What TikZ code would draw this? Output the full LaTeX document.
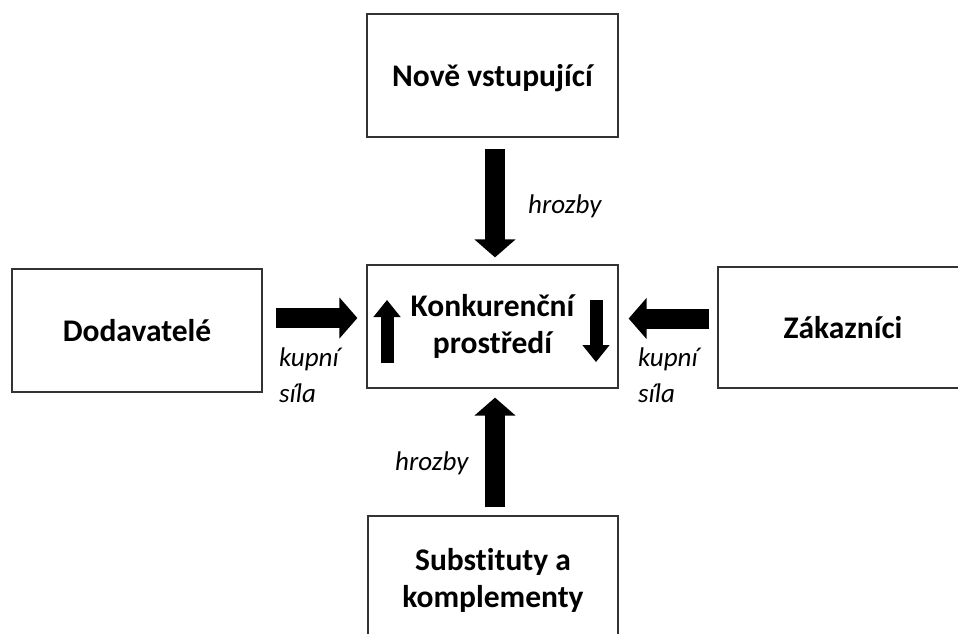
\documentclass[tikz,border=0pt]{standalone}
\usepackage{fontspec}
\setmainfont[Ligatures=NoCommon]{Carlito}
\usetikzlibrary{arrows.meta,calc}

\tikzset{
  box/.style={draw=black!80, line width=1.3pt, inner sep=0pt, align=center,
    font=\fontsize{31.5}{37}\selectfont\bfseries},
  lbl/.style={inner sep=0pt, align=left, anchor=base west,
    font=\fontsize{27}{36}\selectfont\itshape},
  fat/.style={line width=20pt, -{Triangle[length=18pt, width=41pt, line width=1.5pt]}},
  thin/.style={line width=13pt, -{Triangle[length=17pt, width=27pt, line width=1.5pt]}}
}

\begin{document}
\begin{tikzpicture}[x=1pt, y=-1pt]
  \useasboundingbox (0,0) rectangle (958,633);
  \clip (0,0) rectangle (958,633);

  % the five forces
  \node[box, minimum width=251pt, minimum height=123pt, text depth=0pt] (top) at (492.5,75.5) {Nově vstupující};
  \node[box, minimum width=251pt, minimum height=123pt] (env) at (492.5,326.5) {Konkurenční\\prostředí};
  \node[box, minimum width=250pt, minimum height=123pt] (left) at (137,330.5) {Dodavatelé};
  \node[box, minimum width=250pt, minimum height=121pt] (right) at (843,327.5) {Zákazníci};
  \node[box, minimum width=250pt, minimum height=129pt] (bottom) at (493,580.5) {Substituty a\\komplementy};

  % pressure arrows towards the competitive environment
  \draw[fat, shorten <=11pt, shorten >=7pt]
    ([xshift=2.5pt]top.south) -- ([xshift=2.5pt]top.south |- env.north);
  \draw[fat, shorten <=8pt, shorten >=9pt]
    ([xshift=2pt]bottom.north) -- ([xshift=2pt]bottom.north |- env.south);
  \draw[fat, shorten <=13pt, shorten >=9pt]
    ([yshift=12.5pt]left.east) -- ([yshift=12.5pt]left.east -| env.west);
  \draw[fat, shorten <=8pt, shorten >=10pt]
    ([yshift=9pt]right.west) -- ([yshift=9pt]right.west -| env.east);

  % rivalry inside the environment
  \coordinate (upS) at (387,363);
  \coordinate (upE) at (387,300);
  \coordinate (dnS) at (596,300);
  \coordinate (dnE) at (596,362);
  \draw[thin] (upS) -- (upE);
  \draw[thin] (dnS) -- (dnE);

  % labels
  \node[lbl] (ht) at (528,213) {hrozby};
  \node[lbl] (hb) at (395,470) {hrozby};
  \node[lbl] (kl) at (279,402) {kupní\\síla};
  \node[lbl] (kr) at (638,402) {kupní\\síla};
\end{tikzpicture}
\end{document}
